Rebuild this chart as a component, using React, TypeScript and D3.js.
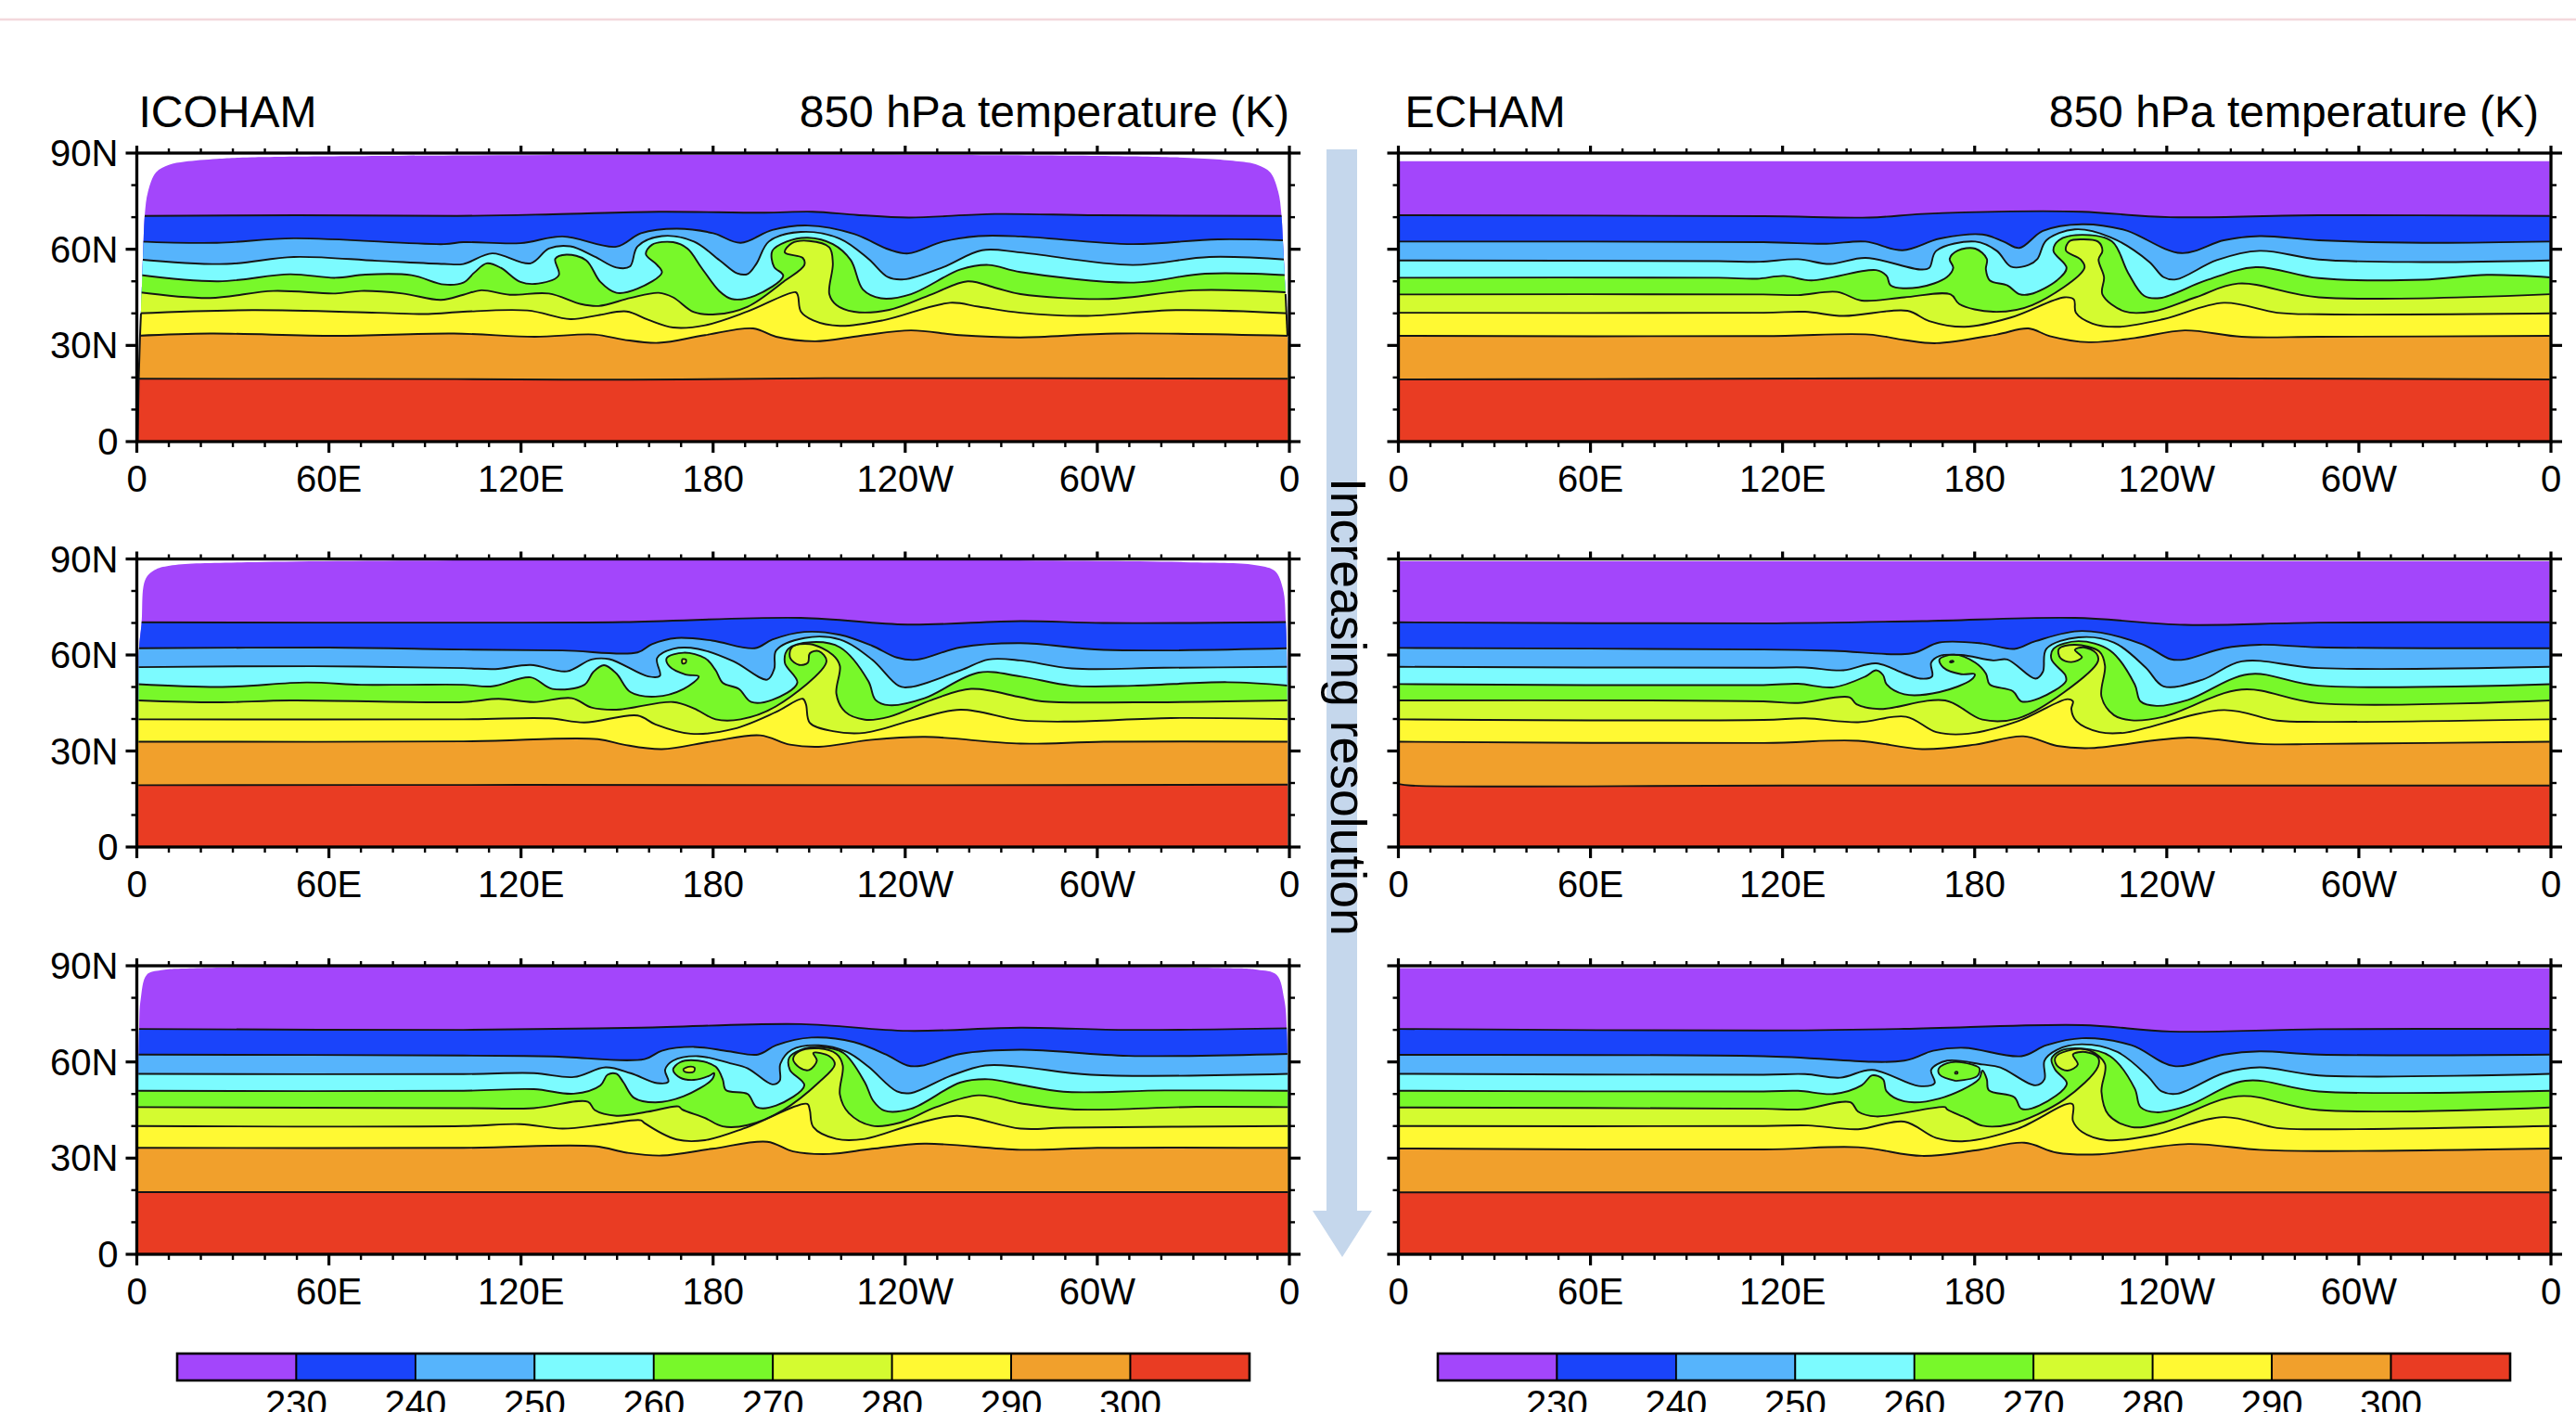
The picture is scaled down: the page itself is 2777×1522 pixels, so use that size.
import React from 'react';
import * as d3 from 'd3';

type Pt = [number, number];

// band colours, coldest to warmest, and the contour levels between them
const bandColors = ['#a346fb', '#1a44fa', '#56b4fc', '#7cfbff', '#78f82a', '#d4fb30', '#fff933', '#f1a02c', '#e93c23'];
const levels = [230, 240, 250, 260, 270, 280, 290, 300];
const lonLabels = ['0', '60E', '120E', '180', '120W', '60W', '0'];
const latLabels = ['0', '30N', '60N', '90N'];

// contours as [lon, lat], level 230 first
const icoham1: Pt[][] = [
  [[0,70.4],[50,70.6],[100,70.4],[130,70.9],[163,71.7],[196,71.4],[211,71.7],[225,70.7],[241,69.9],[268,71],[300,70.6],[360,70.4]],
  [[0,62.4],[25,62],[49,63.4],[96,61.6],[102,62.2],[119.8,61.9],[133,64],[149.8,60.8],[157.5,65],[168.6,66.4],[180,65],[188.6,62],[198.5,66],[209.6,67.4],[224,64.8],[235,59.9],[241,58.7],[251.8,62.4],[262.9,64.1],[276,64],[311,61.6],[337.7,63.1],[360,62.7]],
  [[0,56.9],[28,55.4],[49,57.6],[75,56.4],[96,55.4],[102,55.4],[111,58.7],[123,55.6],[128.7,60.2],[135.4,60.9],[143,57.7],[149.8,54.3],[154,54.6],[156.4,60.9],[164,64.1],[174,62.4],[182,56.6],[187.5,52.5],[190.8,52.3],[193.6,55.6],[197.4,62.4],[207.4,65.4],[219.6,63.3],[228.5,57],[234.6,51.3],[239.6,50.6],[251.8,54.4],[264,59.7],[276,59],[311,55.1],[335,57.6],[360,56.7]],
  [[0,52.1],[25.5,50],[47.8,52.2],[62,51.1],[71.4,52.1],[85.8,51.9],[96,49],[102,49.6],[105.4,52.7],[109.3,55.6],[113.7,54.2],[119.8,49.8],[125.4,49.3],[131.8,51.9],[130.7,57],[134.2,58.3],[140.3,56.6],[144.8,49.8],[149.8,46.4],[156.4,47.7],[164,52.7],[162.5,55.1],[159,58.5],[160.9,61.4],[167.5,62.2],[172,60.2],[176.4,54.2],[182,46.9],[185.8,44.5],[193,45.5],[201.9,51.7],[199,54.6],[198.5,59.5],[203,62.4],[209.6,63.6],[217.4,61.6],[223,56.6],[226.8,47.4],[232.4,44.7],[241.8,46],[257.3,53.7],[266,55.1],[276,52.9],[311.4,49.6],[333.7,52.4],[360,51.9]],
  [[0,46.7],[22.9,44.8],[42.6,47],[62,46.2],[70,47],[83,46.2],[95,44.2],[102,45.8],[107.6,47.2],[116.5,45.8],[128.7,46.2],[138.7,42.9],[144.2,42.3],[154.2,44.8],[163,46.4],[167.5,45],[174,40.4],[180.8,39.7],[190.8,42.1],[201.9,49.8],[208.5,55.1],[208,57.3],[202.4,59],[204.6,61.9],[210,62.6],[216.3,60.6],[217.4,55.6],[216.3,46],[218.5,42.6],[224,40.5],[235,41.1],[248.4,46],[259.5,50],[268.4,47.9],[276,46],[303.6,44.5],[329.8,47.2],[360,46.5]],
  [[0,40],[36,41],[75,40.2],[91,39.8],[102,40.5],[122,40.9],[135.4,38.2],[144,39.4],[153,40.6],[159.7,38],[167.5,35.6],[177.5,36.3],[190.8,40.6],[205.8,46.6],[206.5,45.5],[207.4,40.6],[211.3,37.8],[219.6,36.1],[233,37.8],[254,43.3],[262.9,42.1],[276,40.2],[295.7,39.2],[324.6,41],[360,40]],
  [[0,33],[22.9,33.7],[62,33],[99,33.7],[124.3,32.7],[143,33.4],[152,31.8],[163,30.8],[177.5,33.2],[192.5,35.3],[199.7,32.7],[211.9,31.3],[226,33],[241.8,34.7],[257,33.2],[276,32.5],[306,33.7],[360,33]],
  [[0,19.6],[100,19.5],[154,19.3],[215,19.8],[360,19.6]],
];

const icoham2: Pt[][] = [
  [[0,70.2],[102,70.1],[152,70.3],[207.4,71.6],[240.7,69.5],[276,70.6],[302,70],[360,70.3]],
  [[0,62.1],[60,62.3],[102,61.7],[133,61.4],[156.4,60.8],[160.9,63.4],[168.6,65.3],[179.7,64.5],[193,62.1],[198.5,64.8],[208.5,67.2],[219.6,66.3],[229.6,62.9],[237.4,59.2],[243.5,58.5],[257.3,62.4],[276,63.7],[302,61.6],[360,62.1]],
  [[0,56.2],[55,56.5],[102,55.9],[112,55.6],[123,56.9],[134.3,54.9],[142,58.6],[147.6,58.7],[159.7,53.3],[163.4,53.5],[162.5,59],[167.5,61.9],[175.3,61.9],[186.4,58],[196.9,52.3],[199.1,55.7],[199.7,61.4],[208.5,65.3],[219.6,64.8],[229.6,58.6],[237.9,50.4],[241.8,50],[257.3,55.2],[266,58.6],[276,58.3],[292,55.8],[321,56],[360,56.3]],
  [[0,50.9],[26.7,50],[53,51.4],[70,50.7],[85,50.7],[102,50.7],[111,50.2],[123,53],[129.8,49.4],[139.8,50.7],[142.6,54.7],[145.9,56.8],[149.8,54.2],[154.2,48.4],[162,47],[170.8,49.4],[175.5,53.3],[171.4,53.9],[166.4,56.4],[165.5,59],[170.8,60.7],[177.5,59],[180.8,55.2],[183,51.3],[188,49.4],[191.9,45.3],[198.5,46],[206.3,51.3],[202.4,57.6],[203.5,61.9],[210.7,64],[219.6,62.4],[228.5,51.8],[230.7,46],[235,44.3],[246,46.5],[262.9,54.5],[276,53.3],[292,50.4],[311.6,50.4],[340.6,51.5],[360,50.4]],
  [[0,45.8],[24.8,45.2],[48,45.8],[102,45.3],[113,46.3],[124,45.3],[135.9,46.5],[142,43.6],[149.8,42.9],[167.5,45.3],[174,43.3],[180.8,39.9],[188.6,39.9],[199.7,44],[215.4,58],[213,61.2],[210.2,60.5],[209.6,57.6],[206.9,56.9],[204.1,59],[204.6,62.4],[210.2,63.4],[217.4,60],[219.6,56.6],[218.5,47.9],[221.3,42.2],[227.4,39.8],[235,40.7],[248.4,46],[260.6,49.4],[276,46.8],[282.7,45.5],[311.6,45.2],[360,45.8]],
  [[0,39.9],[102,39.9],[128.7,40.2],[139.8,38.9],[156.4,41.1],[162,38.3],[173,35.4],[186.4,36.9],[199.7,42.2],[208,46.3],[209,44.6],[210.2,38.8],[217.4,36.2],[227.4,35.7],[242.9,39.8],[257.3,42.9],[276,39.6],[292,39.2],[323,40.3],[360,39.9]],
  [[0,32.9],[102,33],[144,33.7],[152,32],[164,30.6],[179.7,33],[194.7,34.9],[204,32],[213,31.3],[229.6,33.5],[246.2,34.4],[276,32.3],[302,32.9],[360,32.9]],
  [[0,19.3],[120,19.4],[240,19.3],[360,19.5]],
];

const icoham3: Pt[][] = [
  [[0,70.3],[102,70],[157.5,70.7],[207.4,71.8],[240.7,69.7],[276,70.7],[309.7,70],[360,70.5]],
  [[0,62.3],[102,62],[129.8,61.7],[158.6,60.9],[164,63.5],[174,64.7],[185,63.3],[194,62.3],[199.7,65.2],[210.7,67.6],[224,66.2],[234,62.3],[240.7,58.9],[245,58.8],[257.3,62.5],[276,63.8],[309.7,61.9],[360,62.5]],
  [[0,56.3],[102,56.2],[124,56.5],[136.5,55.3],[146.4,58.3],[154.2,56.5],[162.5,53.4],[166,53.8],[165,57.5],[167.5,60.4],[175.3,61.8],[185.3,59.6],[190.8,58],[198.5,53],[200.8,54.1],[201,59.4],[204.6,63.8],[213,65.2],[221.8,63.1],[228.5,58.5],[237.4,50.8],[241.8,50.3],[254,55.6],[265,58.9],[276,58.5],[298,56],[360,56.3]],
  [[0,51],[102,51],[124,51.5],[136.5,50.1],[144.8,52.7],[147,56],[149.8,56.3],[152,53.6],[155.3,48.8],[162,47.4],[170.8,49.3],[179.7,54.6],[180.3,56.5],[178.6,55.6],[174,54.4],[169.7,55.1],[167.5,57.5],[169.7,59.9],[175.3,60.4],[180.8,58.5],[183,54.6],[184,51.2],[190.8,50],[193.6,45.9],[199.7,46.4],[208.5,52.7],[204,57.5],[203.8,61.4],[207.4,63.8],[213,64.7],[220.7,62.8],[227.4,53.6],[230,47.9],[233.5,44.8],[241.8,45.4],[257.3,53.6],[266,54.6],[276,52.9],[289.4,50.7],[321,51.1],[360,51]],
  [[0,45.9],[102,45.6],[124,45.6],[140.9,47.6],[143,45],[149.8,43.2],[159.7,44.5],[169.2,46.1],[170.3,45.2],[177.5,42.5],[183,39.9],[190.8,40.3],[201.9,45],[213,53.6],[218,59.2],[216.3,61.8],[211.3,62.8],[212.4,60.4],[210,57.5],[206.9,58.3],[205,60.9],[206.9,63.3],[213,64.2],[218.5,62.5],[220.5,58.9],[219.6,49.8],[222.4,44],[229.6,40.1],[238.5,41.1],[249.6,45.9],[262.9,49.6],[276,47.1],[292,45.2],[331,46],[360,45.9]],
  [[0,40],[102,40],[119.8,40.6],[133,39.2],[146.4,40.6],[157.5,41.8],[158.6,40.9],[168.6,35.8],[177.5,35.6],[190.8,39.7],[209.4,46.9],[210.2,45],[211.3,39.7],[218.5,36],[227.4,36],[242.9,40.6],[256.2,43.2],[276,39.2],[290,39.5],[360,40]],
  [[0,33.2],[102,33.2],[143,33.7],[153,31.7],[164,30.8],[179.7,32.9],[196.9,35.1],[205,32.1],[216.3,31.3],[229.6,32.9],[246,34.5],[276,32.6],[300,33.2],[360,33.2]],
  [[0,19.4],[360,19.4]],
];

const echam1: Pt[][] = [
  [[0,70.6],[114,70.3],[147,69.9],[163.6,71],[191.3,71.8],[213.5,71.7],[241,70],[287.5,70.6],[360,70.4]],
  [[0,62.4],[114,62.2],[133.7,61.7],[145.9,62.4],[157.5,59.7],[169,63.3],[182.4,64.6],[189,62.4],[194,60.4],[201.3,65.7],[213.5,67.8],[226.8,66],[244.5,58.8],[257.8,62.8],[269,64.1],[287.5,62.8],[320,62],[360,62.4]],
  [[0,56.5],[100,56.3],[113,56.1],[124.8,56.9],[134.8,55.4],[145.9,57.3],[163,53.7],[165.8,54.2],[168,59.5],[180.2,62.4],[186.9,59.5],[191.3,54.6],[196.8,55.1],[199.6,57],[202.4,62.8],[211.3,66.2],[222.3,63.8],[234.5,56.1],[239,51.3],[242.9,50.6],[255.6,56.6],[269,59.5],[287.5,56.8],[320,56],[360,56.5]],
  [[0,51.1],[100,51.1],[112,50.8],[120.4,51.7],[129,50.3],[149.2,53.5],[152.5,51.7],[153.8,48.7],[162.5,48.1],[171.3,51.3],[173.3,54.2],[172.2,57],[174.7,59.6],[180.2,60.2],[183.8,57],[183.5,53.7],[184.7,50.3],[190.2,48.7],[194,46],[197.4,46],[205.7,50.3],[208.7,54.2],[204.6,59.5],[206.3,62.8],[213.5,64.5],[222.9,62.4],[227.9,52.7],[232.9,45.5],[237.9,44.8],[252.3,50.3],[267.8,54.4],[287.5,51],[320,50.5],[340,52],[360,51.2]],
  [[0,45.9],[114,45.9],[124.8,45.7],[137,46.7],[144.7,44],[158,45],[172.5,45.9],[175.2,42.9],[185.8,40.5],[198,42.6],[214.3,54.2],[213.1,56.8],[208.5,59.6],[209.6,62.5],[213.5,63.1],[218.5,62.4],[219.9,59.5],[218.7,56.8],[220.4,51.3],[219.9,45.9],[226.8,40.6],[235.7,40.6],[249,45],[262.3,49.3],[287.5,45],[360,46]],
  [[0,40.2],[114,40.2],[127,40.5],[139,39.2],[159,40.8],[165.8,37.6],[176.9,35.8],[191.3,38.7],[208,45],[211,44.3],[211.6,40.2],[216.8,36.8],[224.6,35.8],[239,38.2],[257.8,43.3],[274.5,40.2],[287.5,39.7],[360,40]],
  [[0,33],[114,32.9],[147,33.4],[158,31.7],[168,30.7],[186.9,33.4],[196.8,35.3],[203.5,32.9],[215.7,31],[230,32.3],[245.6,34.7],[263.4,32.7],[287.5,32.7],[360,33]],
  [[0,19.4],[60,19.5],[200,19.8],[360,19.4]],
];

const echam2: Pt[][] = [
  [[0,70.2],[114,69.9],[163.6,70.6],[211.3,71.6],[245.6,69.4],[287.5,70.1],[360,70.2]],
  [[0,62.2],[114,61.7],[135.9,61.3],[160.3,60.5],[169,63.9],[182.4,63.6],[192.4,61.9],[199,64.3],[213.5,67.5],[232.3,63.4],[241.2,58.7],[245.6,58.6],[257.8,62.1],[269,63.2],[287.5,62.4],[360,62.1]],
  [[0,56.3],[114,56],[127,56.1],[139,55.2],[149.2,57.4],[158,54.2],[163,52.6],[166.7,53.3],[166.4,57.6],[169,59.7],[175.8,60],[185.8,58.3],[190.2,58.6],[199,52.6],[201.3,54.7],[202.4,61.9],[212.4,65.5],[223.5,63.9],[233.4,56.1],[239,50.2],[251.2,52.3],[263.4,58],[287.5,55.9],[360,56.3]],
  [[0,50.9],[114,50.6],[124.8,51],[135.9,49.9],[145.9,53.3],[149.2,55.2],[151.4,53.7],[152.5,50.8],[158,47.7],[169,48.4],[179,52.3],[180,54],[175.8,54],[170.2,56.1],[169,58.6],[173.6,60.1],[180.2,57.6],[183.5,54.2],[184.7,50.8],[191.9,48.7],[194.6,45.5],[200.2,46.5],[208.5,51.8],[208.3,53.7],[204,58.6],[204.6,61.9],[212.4,64.3],[222.3,61.4],[230,50.8],[231.8,45.5],[236.8,44.1],[246.7,46],[265.6,54],[287.5,50.4],[360,50.9]],
  [[0,45.8],[114,45.5],[124.8,45],[140.9,46.8],[143.1,44.6],[150.3,43.1],[170.8,45.8],[182.4,39.8],[193.5,40.2],[208,48.4],[218.5,58],[218,60.5],[214,62.4],[211.3,61.6],[213.5,59.3],[210.2,57.8],[206.8,59],[206.3,61.9],[211.3,63.2],[219,61],[220.7,56.6],[219.6,47],[223.5,41.2],[229,39.6],[239,40.7],[263.4,49.2],[287.5,44.9],[360,45.8]],
  [[0,39.9],[114,39.7],[127,40.2],[143.6,39],[158.6,40.7],[168,35.9],[178,35.4],[193.5,39.3],[209,46.2],[210.7,45.5],[210.2,43.1],[211.8,39.3],[219,35.9],[226.8,35.7],[257.8,42.8],[274.5,39.5],[287.5,39.1],[360,39.9]],
  [[0,32.9],[114,32.5],[143.6,33.2],[163.6,30.6],[180.2,32],[195.2,34.6],[205.7,31.6],[215.7,30.9],[246.7,34.2],[269,32.2],[287.5,32.2],[360,32.9]],
  [[0,19.7],[4,19.2],[120,19.2],[360,19.2]],
];

const echam3: Pt[][] = [
  [[0,70.3],[114,69.8],[158,70.3],[213.5,71.5],[241.2,69.5],[287.5,70.2],[360,70.3]],
  [[0,62.2],[114,61.8],[158,60.4],[167,63.5],[176.9,64.4],[194.6,61.8],[202.4,65.2],[213.5,67.4],[229,65.2],[242.3,58.7],[257.8,62.3],[269,63.3],[287.5,62.3],[360,62.3]],
  [[0,56.3],[114,56],[127,56.2],[138,55.1],[148,57.5],[162.5,52.5],[167.5,53.4],[166.4,57.5],[171.4,60.4],[182.4,59.2],[188,58.3],[199,52.7],[201.8,54.6],[201.8,60.4],[205.7,63.8],[213.5,65.5],[224.6,63.1],[234,55.6],[238.4,50.8],[243.4,50.1],[257.8,56.5],[269,58.3],[287.5,55.8],[360,56.3]],
  [[0,51],[114,50.8],[124.8,51],[135.9,50],[144.7,52.7],[148,55.8],[151.4,54.6],[152.5,50.8],[158,47.7],[169,48.6],[181.3,54.6],[182.4,57.3],[183.8,54.6],[184.4,51.2],[192.4,49],[194.6,45.4],[200.2,46.4],[208.8,53.2],[205.2,57.5],[204,60.9],[206.8,63.5],[213.5,64.2],[222.3,61.8],[230,51.7],[231.8,45.9],[236.8,44.3],[246.7,46.4],[264.5,54.1],[287.5,50.8],[360,51]],
  [[0,45.8],[114,45.4],[125.9,45.2],[141.2,47.4],[143.6,44.5],[149.2,43],[170.8,45.9],[171.4,45.2],[177.4,42.5],[182.4,40.1],[191.3,40.6],[208,48.3],[218.5,58.5],[218.5,61.4],[214.6,63.1],[210.7,62.3],[212.2,59.2],[209,57.3],[205.7,58.9],[205.2,61.4],[209,63.5],[215.7,63.6],[220.7,59.4],[219.6,50.7],[221.8,43.5],[229,39.7],[239,41.1],[262.3,49.3],[287.5,45],[360,45.8]],
  [[0,40],[114,40],[128,40.2],[143.6,39],[158,41.4],[168,36.3],[176.9,35.3],[193.5,39.2],[210.5,46.9],[210.7,41.6],[213.5,38.2],[221.2,35.6],[235.7,37.2],[257.8,42.8],[274.5,39.4],[287.5,39],[360,40]],
  [[0,33],[114,32.7],[143.6,33.4],[163.6,30.7],[180.2,32.4],[195.5,34.8],[205.7,31.7],[219,31.2],[246.7,34.4],[269,32.6],[287.5,32.2],[360,33]],
  [[0,19.3],[360,19.3]],
];

// closed contours inside the vortices: level index and outline
type Island = { band: number; pts: Pt[] };
const icoham2Eyes: Island[] = [
  { band: 5, pts: [[170.3,58.7],[171.5,58.6],[171.4,57.5],[170.4,57.4]] },
];
const icoham3Eyes: Island[] = [
  { band: 5, pts: [[170.7,57.8],[172.3,58.5],[174.2,58.2],[174,57],[172.3,56.7],[170.9,57.1]] },
];
const echam2Eyes: Island[] = [
  { band: 5, pts: [[172.2,58],[173.2,58.2],[173.4,57.9],[172.4,57.7]] },
];
const echam3Eyes: Island[] = [
  { band: 4, pts: [[174.1,54.1],[169.1,56],[168.8,58],[172.5,59.9],[179.1,59.2],[181.5,58],[180.8,55.6]] },
  { band: 5, pts: [[173.9,56.9],[174.6,56.9],[174.6,56.4],[173.9,56.4]] },
];

// outline of the filled field, ICOHAM leaves the polar corners empty
const icoham1Edge: Pt[] = [[0.3,0],[0.6,20],[1,33],[1.5,46],[2,60],[2.5,71],[3.5,78],[6,84],[10,86.3],[15,87.3],[25,88.2],[36,88.7],[324,88.7],[345,87.3],[350,86.3],[354,84],[356.5,78],[357.5,71],[358.1,60],[358.8,46],[359.4,33],[359.5,20],[359.6,0]];
const icoham2Edge: Pt[] = [[0.5,0],[0.6,50],[0.7,62],[1.5,70],[2.6,83.4],[5.5,86.5],[10.3,87.9],[34.5,89],[327,89],[350,88],[355.5,86.2],[358,80.6],[358.9,70],[359.3,50],[359.5,0]];
const icoham3Edge: Pt[] = [[0.5,0],[0.7,70],[1.2,79.5],[3.1,87.2],[7.5,88.6],[20,89.3],[340.6,89.3],[350,88.8],[356,87.2],[358.4,79.5],[359.2,70],[359.5,0]];
const echam1Edge: Pt[] = [[0.4,0],[0.4,87.5],[359.6,87.5],[359.6,0]];
const echam23Edge: Pt[] = [[0.4,0],[0.4,89.3],[359.6,89.3],[359.6,0]];

// dark boundary segments along the ICOHAM low-resolution edge
const icoham1Borders: Pt[][] = [
  [[0.3,0],[0.6,20],[1,33],[1.3,40]],
  [[358.8,46],[359.4,33]],
];

const leftX: [number, number] = [147.5, 1390];
const rightX: [number, number] = [1507.5, 2750];
const rows: [number, number][] = [[165, 476], [602.5, 913], [1041, 1352]];

const panels = [
  { id: 'a1', title: 'ICOHAM', xr: leftX, yr: rows[0], lines: icoham1, eyes: [] as Island[], edge: icoham1Edge, borders: icoham1Borders, curved: true },
  { id: 'a2', title: '', xr: leftX, yr: rows[1], lines: icoham2, eyes: icoham2Eyes, edge: icoham2Edge, borders: [] as Pt[][], curved: true },
  { id: 'a3', title: '', xr: leftX, yr: rows[2], lines: icoham3, eyes: icoham3Eyes, edge: icoham3Edge, borders: [] as Pt[][], curved: true },
  { id: 'b1', title: 'ECHAM', xr: rightX, yr: rows[0], lines: echam1, eyes: [] as Island[], edge: echam1Edge, borders: [] as Pt[][], curved: false },
  { id: 'b2', title: '', xr: rightX, yr: rows[1], lines: echam2, eyes: echam2Eyes, edge: echam23Edge, borders: [] as Pt[][], curved: false },
  { id: 'b3', title: '', xr: rightX, yr: rows[2], lines: echam3, eyes: echam3Eyes, edge: echam23Edge, borders: [] as Pt[][], curved: false },
];

const fontFamily = '"Liberation Sans", Arial, sans-serif';
const lineColor = '#141414';

function Panel({ p }: { p: (typeof panels)[number] }) {
  const x = d3.scaleLinear().domain([0, 360]).range(p.xr);
  const y = d3.scaleLinear().domain([0, 90]).range([p.yr[1], p.yr[0]]);
  const line = d3
    .line<Pt>()
    .x((d) => x(d[0]))
    .y((d) => y(d[1]))
    .curve(d3.curveCatmullRom.alpha(0.5));
  const edgeLine = d3
    .line<Pt>()
    .x((d) => x(d[0]))
    .y((d) => y(d[1]));
  if (p.curved) edgeLine.curve(d3.curveCatmullRom.alpha(0.5));
  const lonTicks = d3.range(0, 361, 10);
  const latTicks = d3.range(0, 91, 10);
  const [x0, x1] = p.xr;
  const [yT, yB] = p.yr;

  return (
    <g>
      <clipPath id={`clip-${p.id}`}>
        <path d={edgeLine(p.edge) + 'Z'} />
      </clipPath>
      <g clipPath={`url(#clip-${p.id})`}>
        <rect x={x0} y={yT} width={x1 - x0} height={yB - yT} fill={bandColors[0]} />
        {p.lines.map((c, i) => (
          <path key={i} d={`${line(c)}L${x1},${yB}L${x0},${yB}Z`} fill={bandColors[i + 1]} />
        ))}
        {p.eyes.map((e, i) => (
          <path key={i} d={line([...e.pts, e.pts[0]]) as string} fill={bandColors[e.band]} stroke={lineColor} strokeWidth={1.8} />
        ))}
        {p.lines.map((c, i) => (
          <path key={i} d={line(c) as string} fill="none" stroke={lineColor} strokeWidth={1.9} />
        ))}
      </g>
      {p.borders.map((b, i) => (
        <path key={i} d={line(b) as string} fill="none" stroke={lineColor} strokeWidth={2} />
      ))}

      {lonTicks.map((t) => {
        const major = t % 60 === 0;
        return (
          <g key={t} stroke="#000" strokeWidth={major ? 3.2 : 2.4}>
            <line x1={x(t)} x2={x(t)} y1={yT} y2={yT - (major ? 8 : 5)} />
            <line x1={x(t)} x2={x(t)} y1={yB} y2={yB + (major ? 12 : 6)} />
          </g>
        );
      })}
      {latTicks.map((t) => {
        const major = t % 30 === 0;
        return (
          <g key={t} stroke="#000" strokeWidth={major ? 3.2 : 2.4}>
            <line x1={x0} x2={x0 - (major ? 12 : 6)} y1={y(t)} y2={y(t)} />
            <line x1={x1} x2={x1 + (major ? 12 : 6)} y1={y(t)} y2={y(t)} />
          </g>
        );
      })}
      <rect x={x0} y={yT} width={x1 - x0} height={yB - yT} fill="none" stroke="#000" strokeWidth={3.3} />

      {lonLabels.map((l, i) => (
        <text key={i} x={x(i * 60)} y={yB + 54} textAnchor="middle" fontSize={40} fontFamily={fontFamily}>
          {l}
        </text>
      ))}
      {p.xr === leftX &&
        latLabels.map((l, i) => (
          <text key={i} x={x0 - 20} y={y(i * 30) + 14} textAnchor="end" fontSize={40} fontFamily={fontFamily}>
            {l}
          </text>
        ))}
      {p.title && (
        <g fontSize={48} fontFamily={fontFamily}>
          <text x={x0 + (p.curved ? 2 : 7)} y={yT - 28}>{p.title}</text>
          <text x={x1 - (p.curved ? 0 : 13)} y={yT - 28} textAnchor="end">850 hPa temperature (K)</text>
        </g>
      )}
    </g>
  );
}

function ColorBar({ range }: { range: [number, number] }) {
  const x = d3.scaleLinear().domain([220, 310]).range(range);
  const edges = d3.range(220, 310, 10);
  const top = 1459;
  const bottom = 1488;
  return (
    <g>
      {edges.map((e, i) => (
        <rect key={e} x={x(e)} y={top} width={x(e + 10) - x(e)} height={bottom - top} fill={bandColors[i]} stroke="#000" strokeWidth={1.8} />
      ))}
      <rect x={range[0]} y={top} width={range[1] - range[0]} height={bottom - top} fill="none" stroke="#000" strokeWidth={2.6} />
      {levels.map((l) => (
        <text key={l} x={x(l)} y={1527} textAnchor="middle" fontSize={40} fontFamily={fontFamily}>
          {l}
        </text>
      ))}
    </g>
  );
}

export default function App() {
  return (
    <svg width={2777} height={1522} style={{ position: 'absolute', left: 0, top: 0, display: 'block' }}>
      <rect width={2777} height={1522} fill="#fff" />
      <line x1={0} x2={2777} y1={21} y2={21} stroke="#f3d8dc" strokeWidth={2.5} />
      <path d="M1430,161H1463V1305H1479L1447,1355L1415,1305H1430Z" fill="#c5d7ec" />
      <text transform="translate(1435,515) rotate(90)" fontSize={53.5} fontFamily={fontFamily}>
        Increasing resolution
      </text>
      {panels.map((p) => (
        <Panel key={p.id} p={p} />
      ))}
      <ColorBar range={[191, 1347]} />
      <ColorBar range={[1550, 2706]} />
    </svg>
  );
}
